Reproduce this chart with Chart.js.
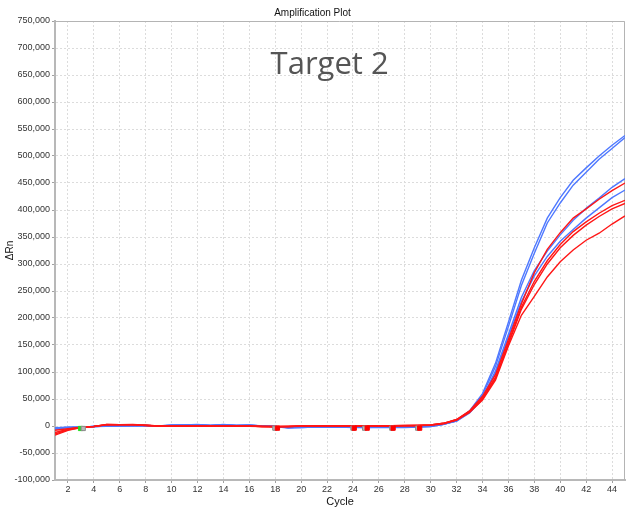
<!DOCTYPE html>
<html>
<head>
<meta charset="utf-8">
<title>Amplification Plot</title>
<script src="https://cdn.jsdelivr.net/npm/chart.js@4/dist/chart.umd.min.js"></script>
<style>
    html, body { margin: 0; padding: 0; background: #fff; }
    #wrap { width: 631px; height: 509px; }
</style>
</head>
<body>
<div id="wrap"><canvas id="ampChart" width="631" height="509"></canvas></div>
<script>
// cycles 1..45, ΔRn values in thousands
const cycles = [1, 2, 3, 4, 5, 6, 7, 8, 9, 10, 11, 12, 13, 14, 15, 16, 17, 18, 19, 20, 21, 22, 23,
    24, 25, 26, 27, 28, 29, 30, 31, 32, 33, 34, 35, 36, 37, 38, 39, 40, 41, 42, 43, 44, 45];
const xTicks = [2, 4, 6, 8, 10, 12, 14, 16, 18, 20, 22, 24, 26, 28, 30, 32, 34, 36, 38, 40, 42, 44];

const blueA = [-4, -2, -2, -1, 0, 0.5, 1, 1, 0, 2, 2, 3, 1, 3, 1, 2, 0, -1, -4, -3, -2, -2, -2, -3, -3, -3, -3, -3, -2, -1, 3,
    10, 28, 60, 116, 192, 270, 330, 385, 423, 455, 478, 500, 520, 538];
const blueB = [-5, -3, -2, -1, 0, 0, 0.5, 1, 0, 1.5, 2, 2.5, 1, 2.5, 1, 1.5, 0, -1, -3, -3, -2, -2, -2, -2, -3, -2, -2, -2, -2, -1, 3,
    10, 27, 57, 110, 184, 260, 320, 376, 413, 446, 470, 494, 514, 534];
const blueC = [-6, -3, -2, -1, -0.5, 0, 0.5, 0.5, 0, 1, 1.5, 2, 1, 2, 1, 1.5, 0, -1, -3, -2, -2, -1, -2, -2, -2, -2, -2, -2, -1, 0, 4,
    9, 25, 52, 102, 170, 238, 288, 324, 354, 381, 403, 422, 442, 458];
const blueD = [-3, -2, -2, -1, 0, 0.5, 0.5, 1, 0, 1, 1.5, 2, 1, 2, 1, 1, 0, -1, -3, -2, -2, -2, -2, -2, -2, -2, -2, -2, -1, 0, 3,
    9, 24, 50, 98, 165, 230, 278, 314, 342, 364, 385, 404, 423, 437];
const redA = [-8, -5, -2, -1, 3, 2.5, 3, 1.5, 0, 0, 0.5, 0, 0.5, 0.5, 0, 0, -1, -1, -1, 0, 0, 0, 0, 0, 0, 0, 0.5, 1, 1, 2, 5,
    12, 28, 55, 95, 160, 226, 284, 327, 358, 385, 402, 420, 436, 450];
const redB = [-12, -6, -2, -1, 3, 2.5, 2.5, 1.5, 0, 0, 0, 0, 0, 0, 0, 0, -1, -1, -1, 0, 0, 0, 0, 0, 0, 0, 0.5, 1, 1, 2, 5,
    12, 27, 52, 90, 155, 220, 268, 306, 336, 360, 378, 394, 408, 418];
const redC = [-15, -7, -3, -1, 2.5, 2, 2.5, 1, 0, 0, 0, 0, 0, 0, 0, 0, -1, -1.5, -1, 0, 0, 0, -0.5, 0, 0, 0, 0, 0.5, 1, 2, 5,
    11, 26, 50, 88, 152, 216, 262, 300, 330, 353, 372, 388, 402, 412];
const redD = [-17, -8, -3, -1, 2, 2, 2, 1, 0, 0, 0, 0, 0, 0, 0, -0.5, -1, -1.5, -1, -0.5, 0, 0, 0, 0, 0, 0, 0, 0.5, 1, 1.5, 4,
    11, 25, 48, 85, 148, 205, 240, 276, 304, 326, 344, 357, 374, 389];

// baseline start/end markers (cycle, ΔRn thousands)
const greenMarkX = [2.97];
const greenMarkY = [-4.6];
const grayMarkX = [3.18, 17.97, 24.0, 24.9, 27.0, 29.0];
const grayMarkY = [-4.6, -4, -4, -4, -4, -4];
const redMarkX = [18.17, 24.1, 25.1, 27.1, 29.15];
const redMarkY = [-4, -4, -4, -4, -4];

const yMin = -100000;
const yMax = 750000;
const yStep = 50000;

const BLUE = 'rgb(78, 120, 255)';
const RED = 'rgb(255, 22, 22)';

function toPoints(xs, ys) {
    return xs.map((x, i) => ({ x: x, y: ys[i] * 1000 }));
}

function curve(values, color) {
    return {
        data: toPoints(cycles, values),
        borderColor: color,
        borderWidth: 1.4,
        pointRadius: 0,
        tension: 0,
        fill: false,
    };
}

function marks(xs, ys, fill, border) {
    return {
        type: 'scatter',
        data: toPoints(xs, ys),
        pointStyle: 'rect',
        pointRadius: 3,
        backgroundColor: fill,
        borderColor: border,
        borderWidth: 1,
        showLine: false,
    };
}

// frame around the plot (top and right edges) and the big label
const framePlugin = {
    id: 'frame',
    beforeDatasetsDraw(chart) {
        const { ctx, chartArea } = chart;
        ctx.save();
        ctx.strokeStyle = '#b4b4b4';
        ctx.lineWidth = 1;
        ctx.beginPath();
        ctx.moveTo(chartArea.left, chartArea.top + 0.5);
        ctx.lineTo(chartArea.right - 0.5, chartArea.top + 0.5);
        ctx.lineTo(chartArea.right - 0.5, chartArea.bottom);
        ctx.stroke();
        ctx.restore();
    },
    afterDraw(chart) {
        const { ctx, scales } = chart;
        ctx.save();
        ctx.font = '31px "Open Sans", "Noto Sans", sans-serif';
        ctx.fillStyle = '#555555';
        ctx.textAlign = 'center';
        ctx.textBaseline = 'alphabetic';
        ctx.fillText('Target 2', scales.x.getPixelForValue(22.2), scales.y.getPixelForValue(652000));
        ctx.restore();
    }
};

const tickFont = { family: 'Liberation Sans, Arial, sans-serif', size: 9 };

new Chart(document.getElementById('ampChart'), {
    type: 'line',
    data: {
        datasets: [
            marks(redMarkX, redMarkY, '#ff0000', '#ff0000'),
            marks(grayMarkX, grayMarkY, '#b8b8b8', '#8c8c8c'),
            marks(greenMarkX, greenMarkY, '#22dd22', '#22dd22'),
            curve(redA, RED),
            curve(redB, RED),
            curve(redC, RED),
            curve(redD, RED),
            curve(blueA, BLUE),
            curve(blueB, BLUE),
            curve(blueC, BLUE),
            curve(blueD, BLUE),
        ]
    },
    options: {
        responsive: false,
        animation: false,
        layout: { padding: { left: 0, right: 6, top: 0, bottom: 0 } },
        plugins: {
            legend: { display: false },
            tooltip: { enabled: false },
            title: {
                display: true,
                text: 'Amplification Plot',
                color: '#111',
                font: { family: 'Liberation Sans, Arial, sans-serif', size: 10, weight: 'normal' },
                padding: { top: 7, bottom: 2 },
            },
        },
        scales: {
            x: {
                type: 'linear',
                min: 1,
                max: 45,
                afterBuildTicks(scale) {
                    scale.ticks = xTicks.map(v => ({ value: v }));
                },
                afterFit(scale) { scale.height = 29; },
                ticks: { font: tickFont, color: '#333', padding: 1, maxRotation: 0, autoSkip: false },
                grid: { color: '#dcdcdc', tickColor: '#a0a0a0', tickLength: 3 },
                border: { color: '#b8b8b8', width: 2, dash: [2, 2] },
                title: {
                    display: true,
                    text: 'Cycle',
                    color: '#111',
                    font: { family: 'Liberation Sans, Arial, sans-serif', size: 11, lineHeight: 1 },
                    padding: { top: 0, bottom: 1.5 },
                },
            },
            y: {
                min: yMin,
                max: yMax,
                afterFit(scale) { scale.width = 55; },
                ticks: {
                    stepSize: yStep,
                    font: tickFont,
                    color: '#333',
                    padding: 2,
                    callback: v => v.toLocaleString('en-US'),
                },
                grid: { color: '#dcdcdc', tickColor: '#a0a0a0', tickLength: 3 },
                border: { color: '#b8b8b8', width: 2, dash: [2, 2] },
                title: {
                    display: true,
                    text: 'ΔRn',
                    color: '#111',
                    font: { family: 'Liberation Sans, Arial, sans-serif', size: 10 },
                    padding: { top: 4, bottom: 0 },
                },
            },
        },
    },
    plugins: [framePlugin],
});
</script>
</body>
</html>
